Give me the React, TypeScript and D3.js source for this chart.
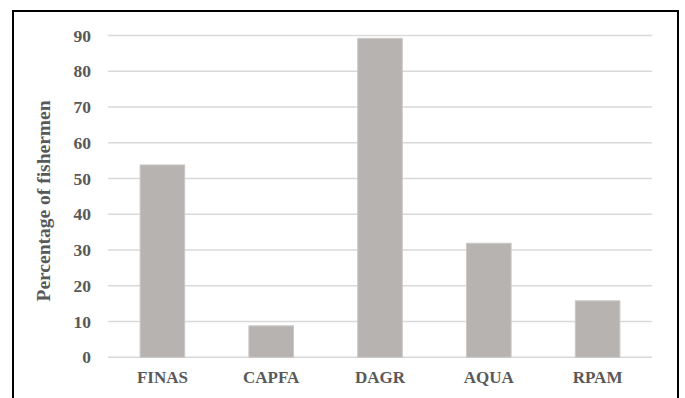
import React from "react";
import * as d3 from "d3";

const categories = ["FINAS", "CAPFA", "DAGR", "AQUA", "RPAM"];
const values = [53.8, 8.8, 89.2, 31.9, 15.8];
const yTicks = [0, 10, 20, 30, 40, 50, 60, 70, 80, 90];
const yTitle = "Percentage of fishermen";

export default function App() {
  const W = 685, H = 398;
  const left = 108, right = 652, top = 35.5, bottom = 357.3;
  const x = d3.scaleBand<string>().domain(categories).range([left, right]).paddingInner(0.59).paddingOuter(0.295);
  const y = d3.scaleLinear().domain([0, 90]).range([bottom, top]);
  const font = "'Liberation Serif', 'Times New Roman', serif";
  const textColor = "#595959";
  return (
    <svg width={W} height={H} style={{ position: "absolute", left: 0, top: 0, display: "block", background: "#fff" }}>
      <rect x={13} y={11} width={665} height={400} fill="#fff" stroke="#000" strokeWidth={2} />
      {yTicks.map((t) => (
        <g key={t}>
          <line x1={left} x2={right} y1={y(t)} y2={y(t)} stroke="#d9d9d9" strokeWidth={1.5} />
          <text x={91} y={y(t)} dy="0.35em" textAnchor="end" fontFamily={font} fontWeight="bold" fontSize={17.5} fill={textColor}>{t}</text>
        </g>
      ))}
      {categories.map((c, i) => (
        <rect key={c} x={x(c)} y={y(values[i])} width={x.bandwidth()} height={y(0) - y(values[i])} fill="#b7b3b1" stroke="#cbc8c6" strokeWidth={1} />
      ))}
      {categories.map((c) => (
        <text key={c} x={(x(c) as number) + x.bandwidth() / 2} y={383} textAnchor="middle" fontFamily={font} fontWeight="bold" fontSize={17} fill={textColor}>{c}</text>
      ))}
      <text transform={`translate(50, 201) rotate(-90)`} textAnchor="middle" fontFamily={font} fontWeight="bold" fontSize={19.5} fill={textColor}>{yTitle}</text>
    </svg>
  );
}
